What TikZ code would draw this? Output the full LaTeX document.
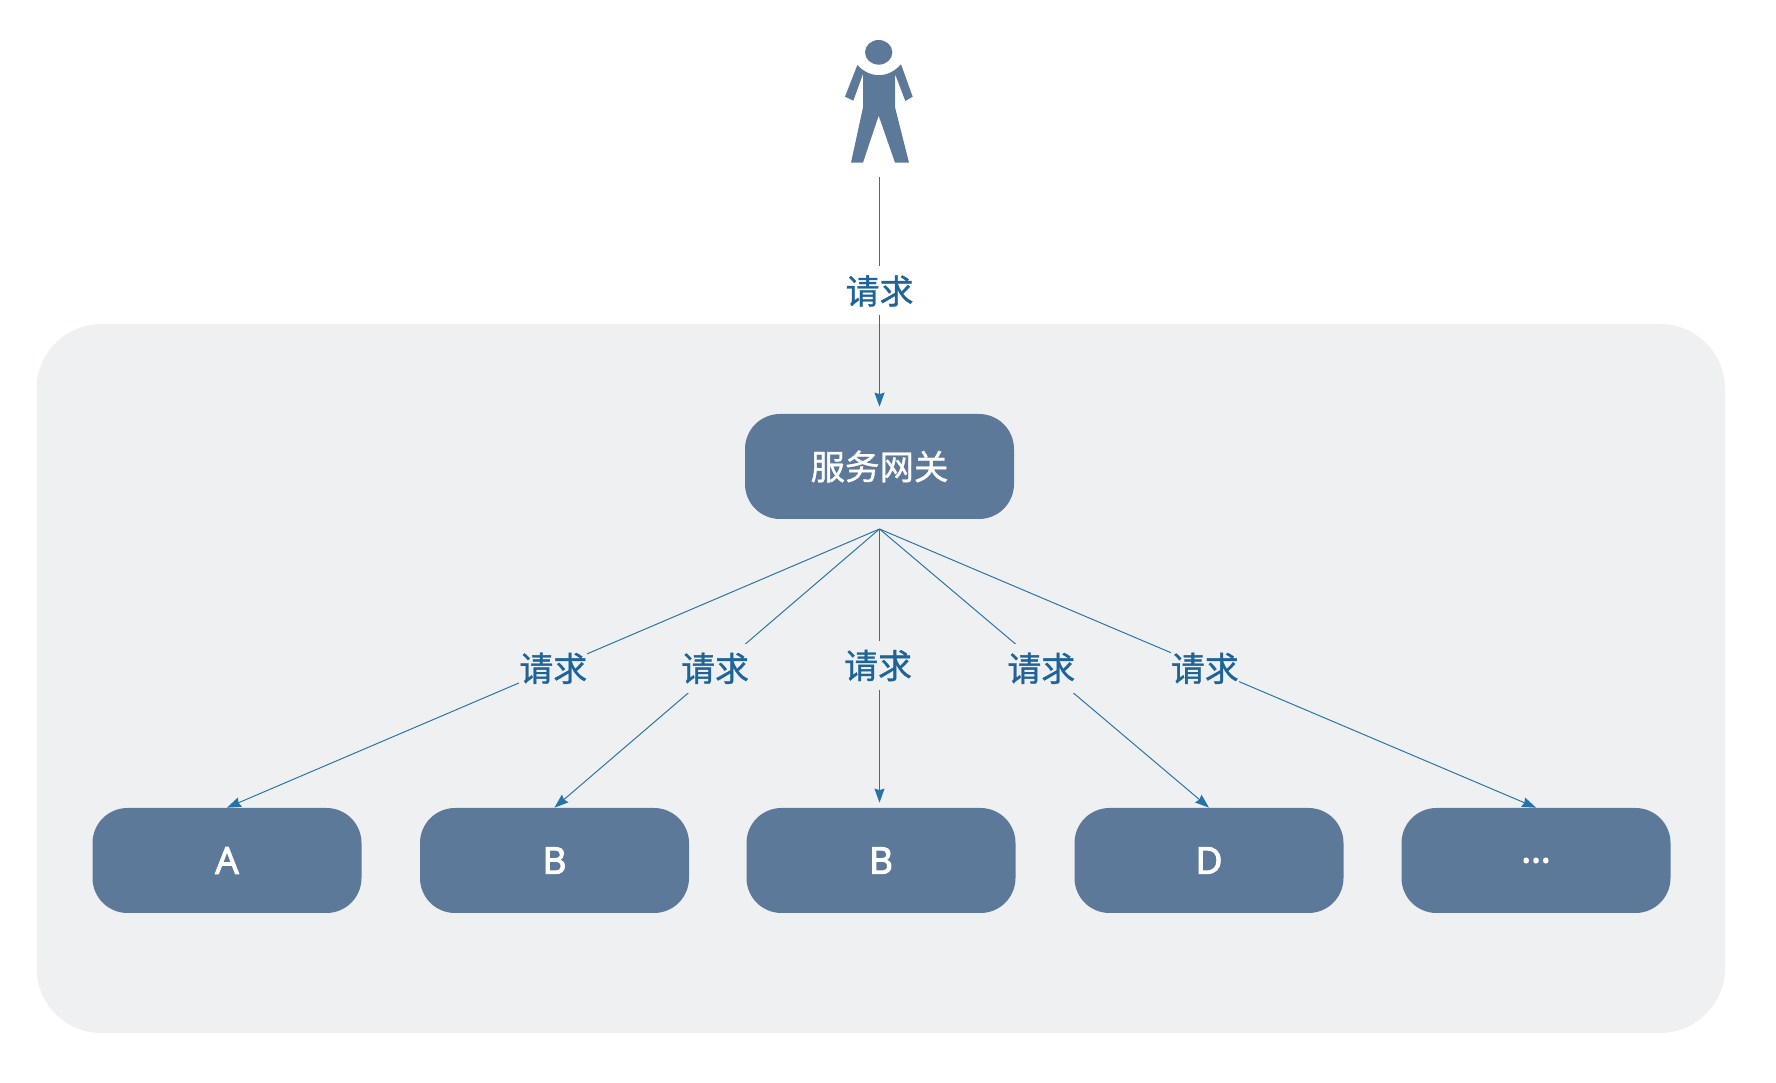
\documentclass[tikz,border=0pt]{standalone}
\usepackage{fontspec}
\usepackage{tikz}
\usetikzlibrary{arrows.meta}
\setmainfont{Open Sans}[FakeBold=3]
\newfontfamily\cjk{Noto Sans CJK SC}[FakeBold=1]
\definecolor{panel_gray}{HTML}{EFF0F2}
\definecolor{box_blue}{HTML}{5D7999}
\definecolor{edge_blue}{HTML}{2673A8}
\definecolor{label_blue}{HTML}{1F6499}

\begin{document}
\begin{tikzpicture}[
        panel_style/.style={draw=none,fill=panel_gray,rounded corners=1.3cm,minimum width=33.77cm,minimum height=14.18cm},
        box_style/.style={draw=none,fill=box_blue,text=white,rounded corners=0.7cm,minimum width=5.38cm,minimum height=2.1cm,inner sep=0pt,font=\fontsize{21}{25}\selectfont},
        port_style/.style={inner sep=0pt,minimum size=0pt,outer sep=0pt},
        person_style/.style={inner sep=0pt,minimum width=1.36cm,minimum height=2.46cm},
        label_style/.style={fill=#1,text=label_blue,inner sep=0pt,minimum width=1.36cm,minimum height=0.98cm,font=\cjk\fontsize{19.3}{23}\selectfont},
        edge_style/.style={color=edge_blue,line width=0.55pt,-{Stealth[length=0.28cm,width=0.2cm,inset=0.03cm]}}]

        \useasboundingbox (0,0) rectangle (35.52,21.64);

        \node [panel_style](panel) at (17.615,8.07) {};

        \node [person_style](person) at (17.59,19.61) {};
        \begin{scope}[shift={(16,21.64)},x=0.006667cm,y=-0.006667cm]
            \fill [box_blue] (236,157) ellipse (41 and 37);
            \fill [box_blue] (172,195) .. controls (210,236) and (265,236) .. (303,193)
                -- (338,290) -- (316,303) -- (285,222) -- (285,322) -- (327,488) -- (285,488)
                -- (236,347) -- (189,488) -- (153,488) -- (189,322) -- (189,222)
                -- (160,302) -- (135,290) -- cycle;
        \end{scope}

        \node [box_style,font=\cjk\fontsize{19.6}{23}\selectfont](gateway) at (17.59,12.31) {服务网关};
        \node [port_style](gw_out) at (17.59,11.06) {};

        \node [box_style](box_a) at (4.54,4.43) {A};
        \node [box_style](box_b) at (11.09,4.43) {B};
        \node [box_style](box_c) at (17.62,4.43) {B};
        \node [box_style](box_d) at (24.18,4.43) {D};
        \node [box_style](box_e) at (30.72,4.43) {...};

        \draw (person.south) edge [edge_style,shorten <=0.28cm,shorten >=0.14cm] node[pos=0.51,label_style=white]{请求} (gateway.north);
        \draw (gw_out) edge [edge_style] node[label_style=panel_gray]{请求} (box_a.north);
        \draw (gw_out) edge [edge_style] node[xshift=-0.04cm,label_style=panel_gray]{请求} (box_b.north);
        \draw (gw_out) edge [edge_style,shorten >=0.1cm] node[pos=0.49,xshift=-0.03cm,label_style=panel_gray]{请求} (gw_out |- box_c.north);
        \draw (gw_out) edge [edge_style] node[xshift=-0.06cm,label_style=panel_gray]{请求} (box_d.north);
        \draw (gw_out) edge [edge_style] node[xshift=-0.06cm,label_style=panel_gray]{请求} (box_e.north);
\end{tikzpicture}
\end{document}
